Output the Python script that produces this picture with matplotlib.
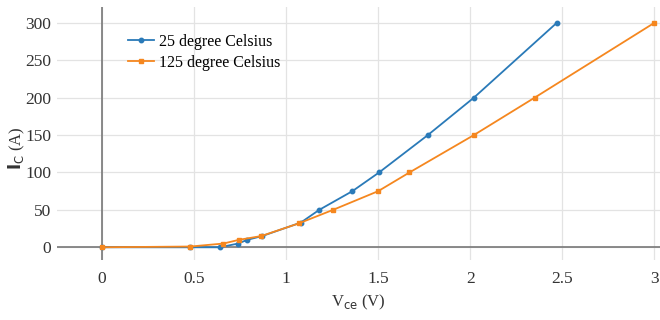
import matplotlib
matplotlib.use("Agg")
import matplotlib.pyplot as plt

vce_25 = [0, 0.48, 0.64, 0.74, 0.79, 0.87, 1.08, 1.18, 1.36, 1.505, 1.77, 2.02, 2.47]
ic_25 = [0, 0, 0, 5, 10, 15, 33, 50, 75, 100, 150, 200, 300]
vce_125 = [0, 0.48, 0.66, 0.745, 0.865, 1.07, 1.255, 1.5, 1.67, 2.02, 2.35, 3.0]
ic_125 = [0, 1, 5, 10, 15, 32, 50, 75, 100, 150, 200, 300]
xticks = [0, 0.5, 1, 1.5, 2, 2.5, 3]
yticks = [0, 50, 100, 150, 200, 250, 300]

plt.rcParams['font.family'] = ['Liberation Serif', 'DejaVu Serif']
fig = plt.figure(figsize=(6.6, 3.2), dpi=100)
ax = fig.add_axes([0.086, 0.1875, 0.914, 0.7905])

ax.plot(vce_25, ic_25, color='#2a7ab8', marker='o', markersize=3.2, lw=1.3, label='25 degree Celsius', zorder=3)
ax.plot(vce_125, ic_125, color='#f5871f', marker='s', markersize=3.2, lw=1.3, label='125 degree Celsius', zorder=3)

ax.set_xlim(-0.245, 3.03)
ax.set_ylim(-17, 321)
ax.set_xticks(xticks)
ax.set_xticklabels(['0', '0.5', '1', '1.5', '2', '2.5', '3'])
ax.set_yticks(yticks)
ax.grid(True, color='#e3e3e3', lw=0.9)
ax.axhline(0, color='#777777', lw=1.2, zorder=2)
ax.axvline(0, color='#777777', lw=1.2, zorder=2)
for s in ax.spines.values():
    s.set_visible(False)
ax.tick_params(axis='y', length=0, labelsize=12.5, colors='#333333', pad=4)
ax.tick_params(axis='x', length=0, labelsize=12.5, colors='#333333', pad=8)
ax.set_xlabel(r'V$_{\mathrm{ce}}$ (V)', fontsize=12, color='#333333', labelpad=4)
ax.set_ylabel(r'$\mathbf{I}_{\mathrm{C}}$ (A)', fontsize=12, color='#333333')
ax.yaxis.set_label_coords(-0.05, 0.44)
ax.legend(loc='upper left', bbox_to_anchor=(0.095, 0.95), frameon=False, fontsize=11.5,
          handlelength=1.6, handletextpad=0.3, labelspacing=0.3)

fig.savefig('out.png', dpi=100)
